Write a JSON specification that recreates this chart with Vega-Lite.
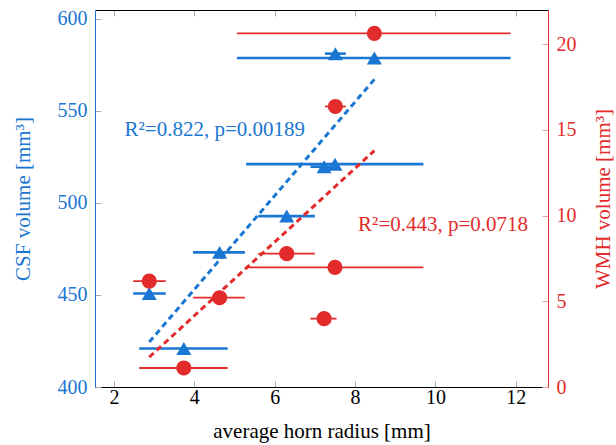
{
  "$schema": "https://vega.github.io/schema/vega-lite/v6.json",
  "width": 453,
  "height": 377,
  "autosize": "none",
  "padding": {"left": 95, "top": 10, "right": 68, "bottom": 58},
  "background": "white",
  "config": {
    "view": {"stroke": null},
    "font": "Liberation Serif",
    "axis": {
      "grid": false,
      "labelFont": "Liberation Serif",
      "titleFont": "Liberation Serif",
      "labelFontSize": 20,
      "titleFontSize": 21,
      "titleFontWeight": "normal",
      "domainWidth": 1,
      "tickWidth": 1,
      "tickSize": -6
    }
  },
  "datasets": {
    "pts": [
      {"r": 8.48, "rlo": 5.06, "rhi": 11.87, "csf": 578.6, "wmh": 20.64},
      {"r": 7.51, "rlo": 7.25, "rhi": 7.77, "csf": 581.0, "wmh": 16.37},
      {"r": 6.30, "rlo": 5.59, "rhi": 7.00, "csf": 492.8, "wmh": 7.78},
      {"r": 7.50, "rlo": 5.29, "rhi": 9.70, "csf": 521.0, "wmh": 6.98},
      {"r": 2.88, "rlo": 2.48, "rhi": 3.29, "csf": 450.8, "wmh": 6.18},
      {"r": 4.63, "rlo": 3.97, "rhi": 5.26, "csf": 473.1, "wmh": 5.21},
      {"r": 7.23, "rlo": 6.89, "rhi": 7.54, "csf": 519.6, "wmh": 3.99},
      {"r": 3.74, "rlo": 2.63, "rhi": 4.83, "csf": 420.9, "wmh": 1.11}
    ]
  },
  "layer": [
    {
      "data": {"name": "pts"},
      "encoding": {
        "x": {"field": "r", "type": "quantitative", "title": "average horn radius [mm]",
          "scale": {"domain": [1.53, 12.8], "nice": false, "zero": false},
          "axis": {"orient": "bottom", "values": [2, 4, 6, 8, 10, 12], "domainColor": "black", "tickColor": "#aaaaaa", "labelColor": "black", "titleColor": "black", "labelPadding": 6, "titlePadding": 13}},
        "y": {"field": "csf", "type": "quantitative", "title": "CSF volume [mm³]",
          "scale": {"domain": [400, 604.7], "nice": false, "zero": false},
          "axis": {"orient": "left", "values": [400, 450, 500, 550, 600], "domainColor": "#1976D2", "tickColor": "#aaaaaa", "labelColor": "#1976D2", "titleColor": "#1976D2", "labelPadding": 14, "titlePadding": 24}}
      },
      "layer": [
        {
          "mark": {"type": "rule", "color": "#1976D2", "strokeWidth": 2.6},
          "encoding": {
            "x": {"field": "rlo", "type": "quantitative", "title": "average horn radius [mm]",
              "scale": {"domain": [1.53, 12.8], "nice": false, "zero": false},
              "axis": {"orient": "bottom", "values": [2, 4, 6, 8, 10, 12], "domainColor": "black", "tickColor": "#aaaaaa", "labelColor": "black", "titleColor": "black", "labelPadding": 6, "titlePadding": 13}},
            "x2": {"field": "rhi"}
          }
        },
        {
          "mark": {"type": "point", "shape": "triangle-up", "filled": true, "size": 225, "color": "#1976D2", "opacity": 1},
          "encoding": {}
        },
        {
          "transform": [{"regression": "csf", "on": "r"}],
          "mark": {"type": "line", "color": "#1976D2", "strokeWidth": 3, "strokeDash": [6, 4]},
          "encoding": {}
        },
        {
          "data": {"values": [{"r": 4.51, "csf": 539.6, "label": "R²=0.822, p=0.00189"}]},
          "mark": {"type": "text", "color": "#1976D2", "fontSize": 21, "font": "Liberation Serif"},
          "encoding": {"text": {"field": "label"}}
        }
      ]
    },
    {
      "data": {"name": "pts"},
      "encoding": {
        "x": {"field": "r", "type": "quantitative", "title": null,
          "scale": {"domain": [1.53, 12.8], "nice": false, "zero": false},
          "axis": {"orient": "top", "values": [2, 4, 6, 8, 10, 12], "domainColor": "black", "tickColor": "#aaaaaa", "labels": false, "title": null}},
        "y": {"field": "wmh", "type": "quantitative", "title": "WMH volume [mm³]",
          "scale": {"domain": [0, 22], "nice": false, "zero": false},
          "axis": {"orient": "right", "values": [0, 5, 10, 15, 20], "domainColor": "#E32B2B", "tickColor": "#f2a0a0", "labelColor": "#E32B2B", "titleColor": "#E32B2B", "labelPadding": 14, "titlePadding": 16, "titleAngle": 270, "titleBaseline": "top"}}
      },
      "layer": [
        {
          "mark": {"type": "rule", "color": "#E32B2B", "strokeWidth": 1.8},
          "encoding": {
            "x": {"field": "rlo", "type": "quantitative", "title": null,
              "scale": {"domain": [1.53, 12.8], "nice": false, "zero": false},
              "axis": {"orient": "top", "values": [2, 4, 6, 8, 10, 12], "domainColor": "black", "tickColor": "#aaaaaa", "labels": false, "title": null}},
            "x2": {"field": "rhi"}
          }
        },
        {
          "mark": {"type": "point", "shape": "circle", "filled": true, "size": 230, "color": "#E32B2B", "opacity": 1},
          "encoding": {}
        },
        {
          "transform": [{"regression": "wmh", "on": "r"}],
          "mark": {"type": "line", "color": "#E32B2B", "strokeWidth": 3, "strokeDash": [6, 4]},
          "encoding": {}
        },
        {
          "data": {"values": [{"r": 10.19, "wmh": 9.43, "label": "R²=0.443, p=0.0718"}]},
          "mark": {"type": "text", "color": "#E32B2B", "fontSize": 21, "font": "Liberation Serif"},
          "encoding": {"text": {"field": "label"}}
        }
      ]
    }
  ],
  "resolve": {"scale": {"y": "independent"}, "axis": {"x": "independent"}}
}
